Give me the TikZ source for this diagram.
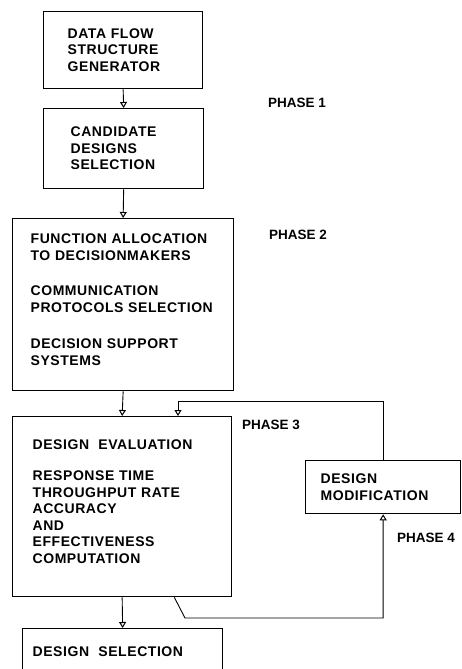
\documentclass[tikz,border=0pt]{standalone}
\usepackage{fontspec}
\usepackage{tikz}
\usetikzlibrary{arrows.meta}
\newfontfamily\boxfont{Liberation Sans}[LetterSpace=4]
\newfontfamily\phasefont{Liberation Sans}

\tikzset{
  stage/.style={draw, line width=1.3pt, rectangle, anchor=north west, align=left,
    font=\boxfont\bfseries\fontsize{14}{16.5}\selectfont, inner ysep=4pt},
  phase/.style={anchor=west, inner sep=0pt, font=\phasefont\bfseries\fontsize{13.5}{16}\selectfont},
  flow/.style={line width=0.9pt, -{Triangle[open, width=7pt, length=6pt, line width=1pt]}}
}

\begin{document}
\begin{tikzpicture}[x=1pt, y=-1pt]
        \useasboundingbox (0,0) rectangle (461,669);
        % design stages, top to bottom
        \node [stage, text width=111pt, inner xsep=24pt, minimum width=159pt, minimum height=77pt] (gen) at (43,11)
            {DATA FLOW\\STRUCTURE\\GENERATOR};
        \node [stage, text width=106pt, inner xsep=27pt, minimum width=160pt, minimum height=80pt] (cand) at (43,108)
            {CANDIDATE\\DESIGNS\\SELECTION};
        \node [stage, text width=185pt, inner xsep=18pt, minimum width=221pt, minimum height=172pt] (alloc) at (12,218)
            {FUNCTION ALLOCATION\\TO DECISIONMAKERS\\[19pt]COMMUNICATION\\PROTOCOLS SELECTION\\[20pt]DECISION SUPPORT\\SYSTEMS\\[-6pt]\mbox{}};
        \node [stage, text width=179pt, inner xsep=20pt, minimum width=219pt, minimum height=180pt] (eval) at (12,416)
            {DESIGN\ \ EVALUATION\\[15pt]RESPONSE TIME\\THROUGHPUT RATE\\ACCURACY\\AND\\EFFECTIVENESS\\COMPUTATION\\[-6pt]\mbox{}};
        \node [stage, text width=125pt, inner xsep=15pt, minimum width=155pt, minimum height=53pt] (modif) at (305,460)
            {DESIGN\\MODIFICATION};
        \node [stage, text width=180pt, inner xsep=10pt, minimum width=200pt, minimum height=46pt] (sel) at (22,628)
            {DESIGN\ \ SELECTION};
        % phase labels
        \node [phase] (ph1) at (268,103) {PHASE 1};
        \node [phase] (ph2) at (269,235) {PHASE 2};
        \node [phase] (ph3) at (242,425) {PHASE 3};
        \node [phase] (ph4) at (397,538) {PHASE 4};
        % main flow
        \draw [flow] (gen.south) -- (cand.north);
        \draw [flow] (cand.south) -- (alloc.north);
        \draw [flow] (alloc.south) -- (eval.north);
        \draw [flow] (eval.south) -- (sel.north);
        % modification loop
        \coordinate (fbtop) at (178,401);
        \coordinate (kink) at (185,618);
        \draw [flow] ([xshift=-58pt]eval.south east) -- (kink) -| (modif.south);
        \draw [flow] (modif.north) |- (fbtop) -- (fbtop |- eval.north);
    \end{tikzpicture}
\end{document}
